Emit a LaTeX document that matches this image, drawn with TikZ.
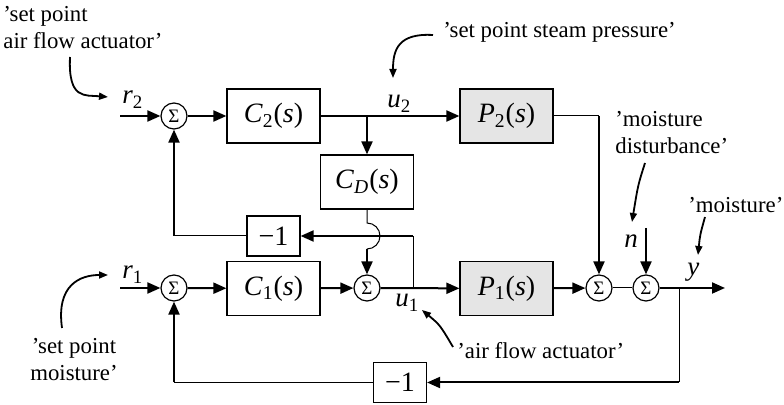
\documentclass[tikz,border=0pt]{standalone}
\usepackage{fontspec}
\setmainfont{Liberation Serif}
\usetikzlibrary{arrows.meta,positioning,calc}

\begin{document}
\begin{tikzpicture}[x=0.5pt, y=-0.5pt,
        every node/.style={font=\fontsize{11.4}{13.5}\selectfont},
        blk/.style={draw, line width=0.6pt, minimum width=46.5pt, minimum height=27pt, inner sep=0pt, font=\fontsize{14}{15}\selectfont},
        plant/.style={blk, fill=gray!20},
        gain/.style={blk, minimum width=26.5pt, minimum height=20pt},
        sumnode/.style={draw, circle, line width=0.6pt, minimum size=13pt, inner sep=0pt, font=\fontsize{9.5}{10}\selectfont},
        sig/.style={line width=1pt, -{Triangle[length=6.5pt,width=5.5pt]}},
        wire/.style={line width=0.5pt},
        note/.style={line width=0.9pt, -{Triangle[length=4.5pt,width=3.5pt]}},
        lab/.style={inner sep=0pt},
        signame/.style={lab, anchor=base west, font=\fontsize{13.5}{15}\selectfont}]
        \useasboundingbox (0,0) rectangle (784,405);
        % blocks
        \node[sumnode] (s2) at (174,116) {Σ};
        \node[blk] (C2) at (273.5,116) {\textit{C}\textsubscript{2}(\textit{s})};
        \node[plant] (P2) at (506.5,116) {\textit{P}\textsubscript{2}(\textit{s})};
        \node[blk] (CD) at (367,182) {\textit{C}\textsubscript{\textit{D}}(\textit{s})};
        \node[gain] (g2) at (273.5,236) {−1};
        \node[sumnode] (s1) at (174,288) {Σ};
        \node[blk] (C1) at (273.5,288.5) {\textit{C}\textsubscript{1}(\textit{s})};
        \node[sumnode] (sD) at (367,288) {Σ};
        \node[plant] (P1) at (506.5,288.5) {\textit{P}\textsubscript{1}(\textit{s})};
        \node[sumnode] (s3) at (599,288) {Σ};
        \node[sumnode] (s4) at (646,288) {Σ};
        \node[gain] (g1) at (400,382.5) {−1};
        % free ends and branch points
        \coordinate (r2in) at (120,116);
        \coordinate (r1in) at (120,288);
        \coordinate (nin) at (646,228);
        \coordinate (yout) at (725,288);
        \coordinate (u2br) at (367,116);
        \coordinate (u1br) at (413,288);
        \coordinate (ybr) at (679,288);
        % signal labels
        \node[signame] (r2) at (122,104) {\textit{r}\textsubscript{2}};
        \node[signame] (r1) at (122,279) {\textit{r}\textsubscript{1}};
        \node[signame] (u2) at (387,108) {\textit{u}\textsubscript{2}};
        \node[signame] (u1) at (395,307) {\textit{u}\textsubscript{1}};
        \node[signame] (n) at (624,248) {\textit{n}};
        \node[signame] (y) at (687,276) {\textit{y}};
        % upper loop
        \draw[sig] (r2in) -- (s2);
        \draw[sig] (s2) -- (C2);
        \draw[sig] (C2) -- (P2);
        \draw[sig] (u2br) -- (CD);
        \draw[wire] (P2.east) -- (P2.east -| s3);
        \draw[sig] (P2.east -| s3) -- (s3);
        \draw[wire] (CD.south) -- (367,223) arc[start angle=-90, end angle=90, radius=13];
        \draw[sig] (367,249) -- (sD);
        \draw[wire] (u1br) -- (u1br |- g2);
        \draw[sig] (u1br |- g2) -- (g2);
        \draw[wire] (g2.west) -- (g2.west -| s2);
        \draw[sig] (g2.west -| s2) -- (s2);
        % lower loop
        \draw[sig] (r1in) -- (s1);
        \draw[sig] (s1) -- (C1);
        \draw[sig] (C1) -- (sD);
        \draw[sig] (sD) -- (P1);
        \draw[sig] (P1) -- (s3);
        \draw[wire] (s3) -- (s4);
        \draw[sig] (s4) -- (yout);
        \draw[sig] (nin) -- (s4);
        \draw[wire] (ybr) -- (ybr |- g1);
        \draw[sig] (ybr |- g1) -- (g1);
        \draw[wire] (g1.west) -- (g1.west -| s1);
        \draw[sig] (g1.west -| s1) -- (s1);
        % notes
        \node[lab, align=left, anchor=west] (nr2) at (3,28) {’set point\\air flow actuator’};
        \node[lab, anchor=west] (nu2) at (443,32) {’set point steam pressure’};
        \node[lab, align=left, anchor=west] (nn) at (615,133) {’moisture\\disturbance’};
        \node[lab, anchor=west] (ny) at (688,205) {’moisture’};
        \node[lab, align=center] (nr1) at (74,360) {’set point\\moisture’};
        \node[lab, anchor=west] (nu1) at (457,351) {’air flow actuator’};
        \draw[note] (70,57) .. controls (68,100) and (85,95) .. (108,97);
        \draw[note] (433,35) .. controls (398,33) and (393,50) .. (393,78);
        \draw[note] (645,163) .. controls (638,185) .. (632,222);
        \draw[note] (705,217) .. controls (700,235) .. (698,255);
        \draw[note] (62,328) .. controls (56,285) and (80,275) .. (108,275);
        \draw[note] (453,347) .. controls (440,325) .. (422,310);
\end{tikzpicture}
\end{document}
